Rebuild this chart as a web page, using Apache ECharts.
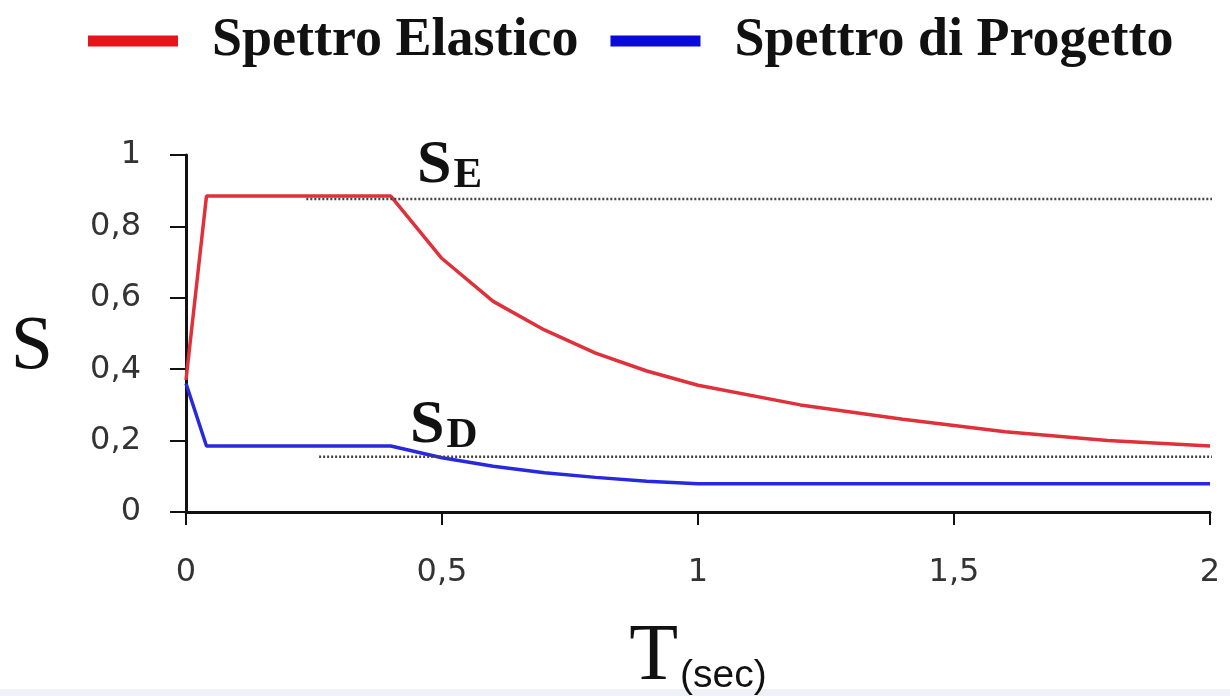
<!DOCTYPE html>
<html>
<head>
<meta charset="utf-8">
<script src="https://cdn.jsdelivr.net/npm/echarts@6/dist/echarts.min.js"></script>
<style>
  html, body { margin: 0; padding: 0; background: #ffffff; }
  #chart { width: 1230px; height: 696px; }
</style>
</head>
<body>
<div id="chart"></div>
<script>
// Periods T (s) and spectral ordinates S for the two response spectra
const periodsElastic = [0, 0.04, 0.4, 0.5, 0.6, 0.7, 0.8, 0.9, 1.0, 1.2, 1.4, 1.6, 1.8, 2.0];
const elastic        = [0.37, 0.885, 0.885, 0.71, 0.59, 0.51, 0.445, 0.395, 0.355, 0.30, 0.26, 0.225, 0.2, 0.185];

const periodsDesign  = [0, 0.04, 0.4, 0.5, 0.6, 0.7, 0.8, 0.9, 1.0, 2.0];
const design         = [0.36, 0.185, 0.185, 0.152, 0.128, 0.11, 0.097, 0.086, 0.079, 0.079];

// Reference levels S_E and S_D (dotted guides), with their start/end periods
const levelSE = 0.877;
const levelSD = 0.155;
const guideSE = [0.235, 2.04];
const guideSD = [0.26, 2.04];

const seriesNames = ['Spettro Elastico', 'Spettro di Progetto'];
const xTicks = [0, 0.5, 1, 1.5, 2];
const yTicks = [0, 0.2, 0.4, 0.6, 0.8, 1];

const zip = (xs, ys) => xs.map((x, i) => [x, ys[i]]);
const comma = v => String(+v.toFixed(2)).replace('.', ',');

const chart = echarts.init(document.getElementById('chart'), null, { renderer: 'canvas' });

const axisLabelStyle = {
  fontFamily: 'DejaVu Sans', fontSize: 32, color: '#333333'
};

// "S" with a bold subscript letter, baselines aligned
const subscripted = (main, sub) => ({
  text: '{s|' + main + '}{e|' + sub + '}',
  rich: {
    s: { fontFamily: 'Liberation Serif', fontWeight: 'bold', fontSize: 62, fill: '#111111',
         verticalAlign: 'bottom', lineHeight: 62 },
    e: { fontFamily: 'Liberation Serif', fontWeight: 'bold', fontSize: 43, fill: '#111111',
         verticalAlign: 'bottom', lineHeight: 62, padding: [0, 0, 0, 2] }
  }
});

chart.setOption({
  animation: false,
  backgroundColor: '#ffffff',
  grid: {
    left: 186, right: 20, top: 155, bottom: 184,
    containLabel: false, outerBoundsMode: 'none'
  },
  legend: {
    data: seriesNames,
    left: 88, top: 14, padding: 0,
    icon: 'rect',
    itemWidth: 90, itemHeight: 11,
    itemGap: 32,
    textStyle: {
      fontFamily: 'Liberation Serif', fontWeight: 'bold', fontSize: 54,
      color: '#111111', padding: [0, 0, 0, 29]
    }
  },
  xAxis: {
    type: 'value', min: xTicks[0], max: xTicks[xTicks.length - 1], interval: 0.5,
    axisLine: { lineStyle: { color: '#111111', width: 3 } },
    axisTick: { length: 13, lineStyle: { color: '#111111', width: 2 } },
    axisLabel: { ...axisLabelStyle, margin: 45, formatter: comma },
    splitLine: { show: false },
    name: '{t|T}{s|(sec)}',
    nameLocation: 'middle',
    nameGap: 106,
    nameTextStyle: {
      rich: {
        t: { fontFamily: 'Liberation Serif', fontStyle: 'normal', fontSize: 80, color: '#111111',
             verticalAlign: 'bottom', lineHeight: 80 },
        s: { fontFamily: 'Liberation Sans', fontSize: 39, color: '#111111',
             verticalAlign: 'bottom', lineHeight: 80, padding: [0, 0, 2, 2] }
      }
    }
  },
  yAxis: {
    type: 'value', min: yTicks[0], max: yTicks[yTicks.length - 1], interval: 0.2,
    axisLine: { show: true, lineStyle: { color: '#111111', width: 3 } },
    axisTick: { show: true, length: 16, lineStyle: { color: '#111111', width: 2 } },
    axisLabel: { ...axisLabelStyle, margin: 45, formatter: comma },
    splitLine: { show: false },
    name: 'S',
    nameLocation: 'middle',
    nameRotate: 0,
    nameGap: 133,
    nameTextStyle: {
      fontFamily: 'Liberation Serif', fontStyle: 'normal', fontWeight: 'normal',
      fontSize: 76, color: '#111111',
      verticalAlign: 'top', lineHeight: 30
    }
  },
  series: [
    {
      name: seriesNames[0], type: 'line', data: zip(periodsElastic, elastic),
      showSymbol: false, symbol: 'none',
      color: '#e8141c',
      lineStyle: { color: '#e0303a', width: 3.5 }, z: 3
    },
    {
      name: seriesNames[1], type: 'line', data: zip(periodsDesign, design),
      showSymbol: false, symbol: 'none',
      color: '#0a0ad8',
      lineStyle: { color: '#2828e0', width: 3.5 }, z: 3
    },
    {
      name: 'SE', type: 'line', clip: false, silent: true,
      data: guideSE.map(t => [t, levelSE]),
      showSymbol: false, symbol: 'none',
      lineStyle: { color: '#444444', width: 2.5, type: [2, 2] }, z: 4
    },
    {
      name: 'SD', type: 'line', clip: false, silent: true,
      data: guideSD.map(t => [t, levelSD]),
      showSymbol: false, symbol: 'none',
      lineStyle: { color: '#444444', width: 2.5, type: [2, 2] }, z: 4
    }
  ],
  graphic: [
    { type: 'text', left: 417, top: 135, z: 10, style: subscripted('S', 'E') },
    { type: 'text', left: 410, top: 395, z: 10, style: subscripted('S', 'D') },
    {
      type: 'rect', left: 0, bottom: 0, z: -1, silent: true,
      shape: { width: 1230, height: 7 },
      style: { fill: '#eef2f8' }
    }
  ]
});
</script>
</body>
</html>
